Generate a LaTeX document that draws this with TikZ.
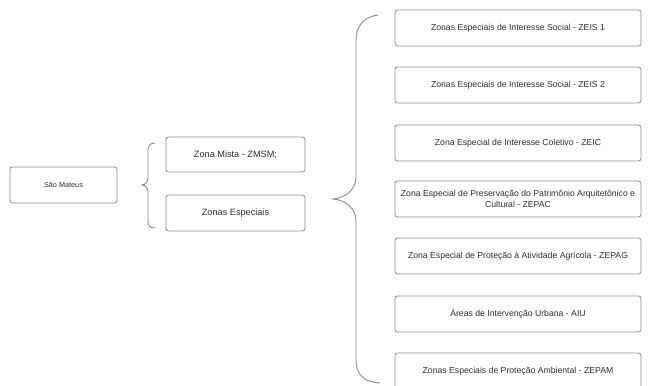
\documentclass[tikz,border=0pt]{standalone}
\usepackage{fontspec}
\setmainfont{Liberation Sans}
\definecolor{boxline}{HTML}{8C8C8C}
\definecolor{txt}{HTML}{2E2E2E}
\definecolor{braceline}{HTML}{8A8A8A}
\tikzset{
  zbox/.style={draw=boxline, line width=0.8bp, rounded corners=2.5bp, fill=white,
    text=txt, align=center, inner sep=2bp, minimum height=36bp, font=\fontsize{8.7}{10.5}\selectfont},
  rbox/.style={zbox, minimum width=246bp},
  mbox/.style={zbox, minimum width=139bp, font=\fontsize{9.2}{11}\selectfont},
  sbox/.style={zbox, minimum width=107bp, font=\fontsize{7.3}{9}\selectfont},
  bracepath/.style={draw=braceline, line width=0.9bp}
}
\begin{document}
\begin{tikzpicture}[x=1bp,y=-1bp]
\useasboundingbox (0,0) rectangle (654,385);
\fill[white] (0,0) rectangle (654,385);
\begin{scope}
\clip (0,0) rectangle (654,385);
\node[sbox] (sm) at (63.5,185) {São Mateus};
\node[mbox, minimum height=35bp] (zm) at (235.5,154.5) {Zona Mista - ZMSM;};
\node[mbox] (ze) at (235.5,213) {Zonas Especiais};
\node[rbox] (r1) at (518,28) {Zonas Especiais de Interesse Social - ZEIS 1};
\node[rbox] (r2) at (518,85) {Zonas Especiais de Interesse Social - ZEIS 2};
\node[rbox] (r3) at (518,143) {Zona Especial de Interesse Coletivo - ZEIC};
\node[rbox, inner sep=1bp] (r4) at (518,199) {Zona Especial de Preservação do Patrimônio Arquitetônico e\\Cultural - ZEPAC};
\node[rbox] (r5) at (518,256) {Zona Especial de Proteção à Atividade Agrícola - ZEPAG};
\node[rbox] (r6) at (518,314) {Áreas de Intervenção Urbana - AIU};
\node[rbox] (r7) at (518,371) {Zonas Especiais de Proteção Ambiental - ZEPAM};
% small brace
\draw[bracepath] (155,143) .. controls (150,143) and (148,146) .. (148,150) -- (148,178)
  .. controls (148,182) and (145,185) .. (142,185)
  .. controls (145,185) and (148,188) .. (148,192) -- (148,221)
  .. controls (148,226) and (150,228) .. (155,228);
% big brace
\draw[bracepath] (378,15) .. controls (362,17) and (356,28) .. (356,40) -- (356,177)
  .. controls (356,190) and (345,198) .. (333,199)
  .. controls (345,200) and (356,208) .. (356,221) -- (356,360)
  .. controls (356,375) and (364,382) .. (380,383);
\end{scope}
\end{tikzpicture}
\end{document}
